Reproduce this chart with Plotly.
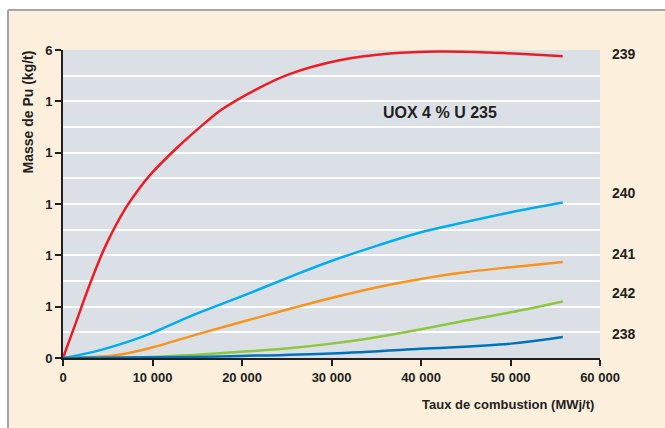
import plotly.graph_objects as go

# ---- data ----
burnup_239 = [0, 1340, 2830, 4690, 6930, 8420, 9910, 12890, 15870, 17730, 21450, 25300, 30900, 36500, 42090, 47690, 55830]
pu239 = [0, 0.64, 1.36, 2.16, 2.90, 3.28, 3.60, 4.12, 4.58, 4.84, 5.22, 5.53, 5.80, 5.93, 5.97, 5.95, 5.88]

burnup_240 = [0, 3400, 7130, 9850, 14590, 19930, 25790, 29980, 35130, 40000, 44460, 50060, 55840]
pu240 = [0, 0.12, 0.31, 0.48, 0.84, 1.20, 1.61, 1.89, 2.19, 2.45, 2.63, 2.84, 3.03]

burnup_241 = [0, 5260, 7130, 9850, 14590, 19930, 25790, 29980, 35130, 40000, 44460, 50060, 55840]
pu241 = [0, 0.04, 0.09, 0.20, 0.44, 0.70, 0.98, 1.17, 1.38, 1.54, 1.66, 1.77, 1.87]

burnup_242 = [0, 9850, 14590, 19930, 25790, 29980, 35130, 40000, 44460, 50060, 55840]
pu242 = [0, 0.02, 0.06, 0.12, 0.20, 0.28, 0.41, 0.56, 0.71, 0.89, 1.10]

burnup_238 = [0, 14590, 19930, 29980, 40000, 50060, 55840]
pu238 = [0, 0.02, 0.04, 0.09, 0.18, 0.28, 0.41]

x_tickvals = [0, 10000, 20000, 30000, 40000, 50000, 60000]
x_ticktext = ["0", "10 000", "20 000", "30 000", "40 000", "50 000", "60 000"]
y_tickvals = [0, 1, 2, 3, 4, 5, 6]
y_ticktext = ["0", "1", "1", "1", "1", "1", "6"]

series = [
    ("239", burnup_239, pu239, "#ED1C24", 54),
    ("240", burnup_240, pu240, "#00AEEF", 193),
    ("241", burnup_241, pu241, "#F7941D", 254),
    ("242", burnup_242, pu242, "#8DC63F", 293),
    ("238", burnup_238, pu238, "#0072BC", 334),
]

FONT = "Liberation Sans, Arial, Helvetica, sans-serif"
TXT = "#231F20"
CREAM = "#FCEFDC"

W, H = 665, 428
L, R, T, B = 63, 65, 50, 70
PW, PH = W - L - R, H - T - B


def px2x(px):
    return (px - L) / PW


def py2y(py):
    return (H - B - py) / PH


fig = go.Figure()
for name, xs, ys, color, _ in series:
    fig.add_trace(go.Scatter(x=xs, y=ys, mode="lines", name=name,
                             line=dict(color=color, width=2.5, shape="spline", smoothing=1.0),
                             hoverinfo="skip", showlegend=False))

annotations = []
for name, xs, ys, color, ypx in series:
    annotations.append(dict(x=px2x(610), y=py2y(ypx), xref="paper", yref="paper",
                            xanchor="left", yanchor="middle", showarrow=False,
                            text=name, font=dict(family=FONT, size=14, color=TXT, weight="bold")))
annotations.append(dict(x=px2x(440), y=py2y(112), xref="paper", yref="paper",
                        xanchor="center", yanchor="middle", showarrow=False,
                        text="UOX 4 % U 235", font=dict(family=FONT, size=16, color=TXT, weight="bold")))
annotations.append(dict(x=px2x(508), y=py2y(404), xref="paper", yref="paper",
                        xanchor="center", yanchor="middle", showarrow=False,
                        text="Taux de combustion (MWj/t)", font=dict(family=FONT, size=13, color=TXT, weight="bold")))
annotations.append(dict(x=px2x(27), y=py2y(49), xref="paper", yref="paper",
                        xanchor="center", yanchor="top", showarrow=False, textangle=-90,
                        text="Masse de Pu (kg/t)", font=dict(family=FONT, size=14, color=TXT, weight="bold")))

shapes = [
    # white margin strips outside the frame
    dict(type="rect", xref="paper", yref="paper", x0=-0.2, x1=1.3, y0=py2y(10), y1=py2y(-5),
         fillcolor="white", line=dict(width=0), layer="below"),
    dict(type="rect", xref="paper", yref="paper", x0=px2x(-5), x1=px2x(8), y0=-0.4, y1=py2y(-5),
         fillcolor="white", line=dict(width=0), layer="below"),
    # grey frame lines
    dict(type="line", xref="paper", yref="paper", x0=px2x(8), x1=1.3, y0=py2y(10), y1=py2y(10),
         line=dict(color="#A3A7AB", width=2), layer="below"),
    dict(type="line", xref="paper", yref="paper", x0=px2x(8), x1=px2x(8), y0=-0.4, y1=py2y(10),
         line=dict(color="#A3A7AB", width=2), layer="below"),
]

fig.update_layout(
    width=W, height=H,
    margin=dict(l=L, r=R, t=T, b=B, pad=0),
    paper_bgcolor=CREAM,
    plot_bgcolor="#DBE0E6",
    font=dict(family=FONT, color=TXT),
    showlegend=False,
    annotations=annotations,
    shapes=shapes,
    xaxis=dict(range=[0, 60000], tickvals=x_tickvals, ticktext=x_ticktext,
               showgrid=False, zeroline=False, showline=True, linecolor=TXT, linewidth=2,
               ticks="outside", ticklen=6, tickwidth=1.5, tickcolor=TXT,
               tickfont=dict(family=FONT, size=13, color=TXT, weight="bold"), fixedrange=True),
    yaxis=dict(range=[0, 6], tickvals=y_tickvals, ticktext=y_ticktext,
               showgrid=True, gridcolor="white", gridwidth=1.5,
               minor=dict(dtick=0.5, showgrid=True, gridcolor="white", gridwidth=1.5, ticks=""),
               zeroline=False, showline=True, linecolor=TXT, linewidth=2,
               ticks="outside", ticklen=6, tickwidth=1.5, tickcolor=TXT,
               tickfont=dict(family=FONT, size=13, color=TXT, weight="bold"), fixedrange=True),
    xaxis2=dict(range=[0, 60000], overlaying="x", anchor="y", tickvals=x_tickvals,
                showticklabels=False, showgrid=False, zeroline=False, showline=False,
                ticks="inside", ticklen=6, tickwidth=1.5, tickcolor=TXT, fixedrange=True),
    yaxis2=dict(range=[0, 6], overlaying="y", anchor="x", side="left", tickvals=y_tickvals,
                showticklabels=False, showgrid=False, zeroline=False, showline=False,
                ticks="inside", ticklen=6, tickwidth=1.5, tickcolor=TXT, fixedrange=True),
)

fig.write_html("out.html", config={"displayModeBar": False},
               post_script="document.body.style.margin='0';document.body.style.padding='0';")
